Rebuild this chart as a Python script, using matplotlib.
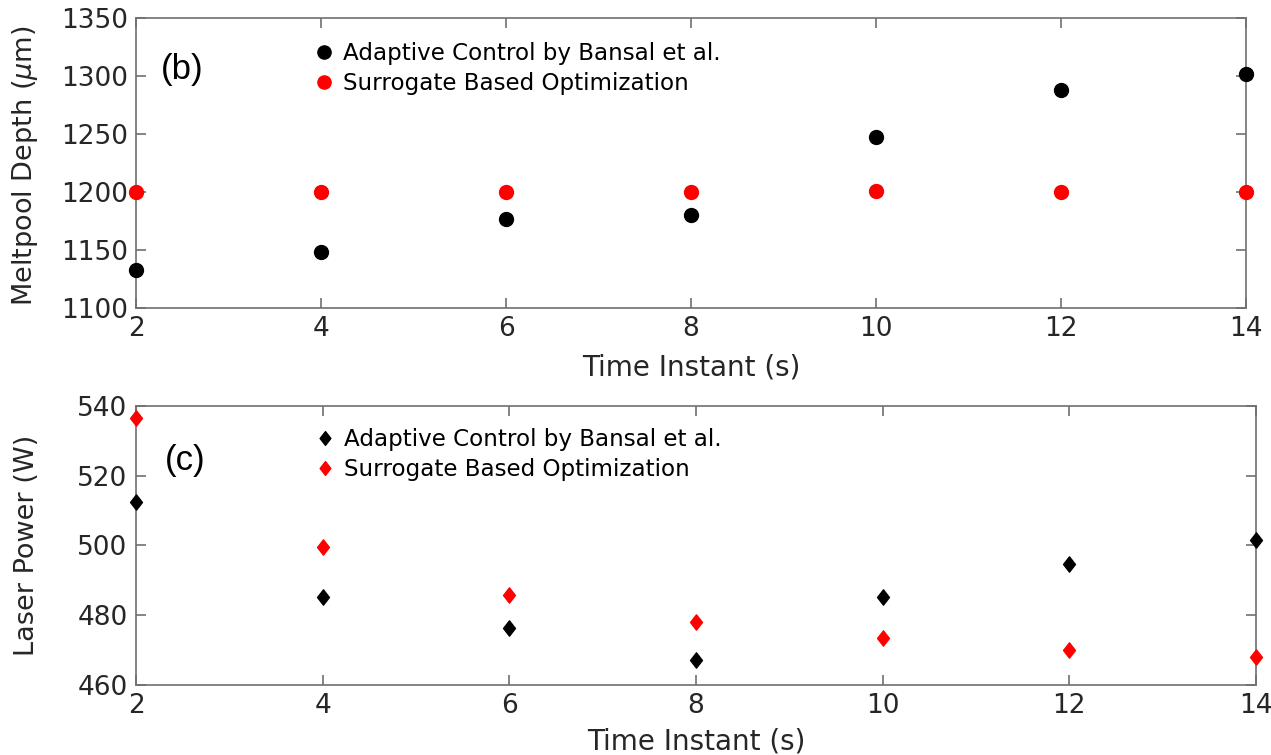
import matplotlib
matplotlib.use("Agg")
import matplotlib.pyplot as plt
from matplotlib.path import Path

time_s = [2, 4, 6, 8, 10, 12, 14]
depth_adaptive = [1133, 1148, 1177, 1180, 1247, 1288, 1302]
depth_surrogate = [1200, 1200, 1200, 1200, 1201, 1200, 1200]
power_adaptive = [512.5, 485.1, 476.4, 467.3, 485.3, 494.6, 501.7]
power_surrogate = [536.6, 499.7, 485.9, 478.1, 473.6, 470.0, 467.9]
label_adaptive = "Adaptive Control by Bansal et al."
label_surrogate = "Surrogate Based Optimization"

W, H = 1271, 755
fig = plt.figure(figsize=(W / 100, H / 100), dpi=100)

def px(l, t, r, b):
    return [l / W, 1 - b / H, (r - l) / W, (b - t) / H]

ax1 = fig.add_axes(px(136, 18, 1246, 308))
ax2 = fig.add_axes(px(136, 406, 1256, 685))

txt = "#262626"
spine = "#707070"
diamond = Path([(0, 1), (0.78, 0), (0, -1), (-0.78, 0), (0, 1)],
               [Path.MOVETO, Path.LINETO, Path.LINETO, Path.LINETO, Path.CLOSEPOLY])

def style(ax):
    for s in ax.spines.values():
        s.set_color(spine)
        s.set_linewidth(1.2)
    ax.tick_params(direction="in", top=True, right=True, length=7, width=1.2,
                   color=spine, labelsize=19, labelcolor=txt, pad=6)
    ax.set_xlim(2, 14)
    ax.set_xticks(time_s)

ax1.plot(time_s, depth_adaptive, "o", color="black", ms=10, clip_on=False,
         label=label_adaptive, zorder=5)
ax1.plot(time_s, depth_surrogate, "o", color="red", ms=10, clip_on=False,
         label=label_surrogate, zorder=5)
style(ax1)
ax1.set_ylim(1100, 1350)
ax1.set_yticks([1100, 1150, 1200, 1250, 1300, 1350])
ax1.set_ylabel(r"Meltpool Depth ($\mu$m)", fontsize=19.5, color=txt)
ax1.yaxis.set_label_coords((40 - 136) / 1110, 0.49)
ax1.set_xlabel("Time Instant (s)", fontsize=20, color=txt, labelpad=8)
ax1.text(0.022, 0.79, "(b)", transform=ax1.transAxes, fontsize=25,
         family="Liberation Sans", color="black")
ax1.legend(loc="upper left", bbox_to_anchor=(0.1505, 0.95), frameon=False,
           fontsize=16.6, handletextpad=0.35, labelspacing=0.3,
           borderaxespad=0, handlelength=1.0, markerscale=0.95)

ax2.plot(time_s, power_adaptive, linestyle="none", marker=diamond, color="black",
         ms=11, clip_on=False, label=label_adaptive, zorder=5)
ax2.plot(time_s, power_surrogate, linestyle="none", marker=diamond, color="red",
         ms=11, clip_on=False, label=label_surrogate, zorder=5)
style(ax2)
ax2.set_ylim(460, 540)
ax2.set_yticks([460, 480, 500, 520, 540])
ax2.set_ylabel("Laser Power (W)", fontsize=19.5, color=txt)
ax2.yaxis.set_label_coords((40 - 136) / 1120, 0.5)
ax2.set_xlabel("Time Instant (s)", fontsize=20, color=txt, labelpad=6)
ax2.text(0.026, 0.77, "(c)", transform=ax2.transAxes, fontsize=25,
         family="Liberation Sans", color="black")
ax2.legend(loc="upper left", bbox_to_anchor=(0.15, 0.955), frameon=False,
           fontsize=16.6, handletextpad=0.35, labelspacing=0.3,
           borderaxespad=0, handlelength=1.0, markerscale=0.9)

fig.savefig("out.png", dpi=100)
